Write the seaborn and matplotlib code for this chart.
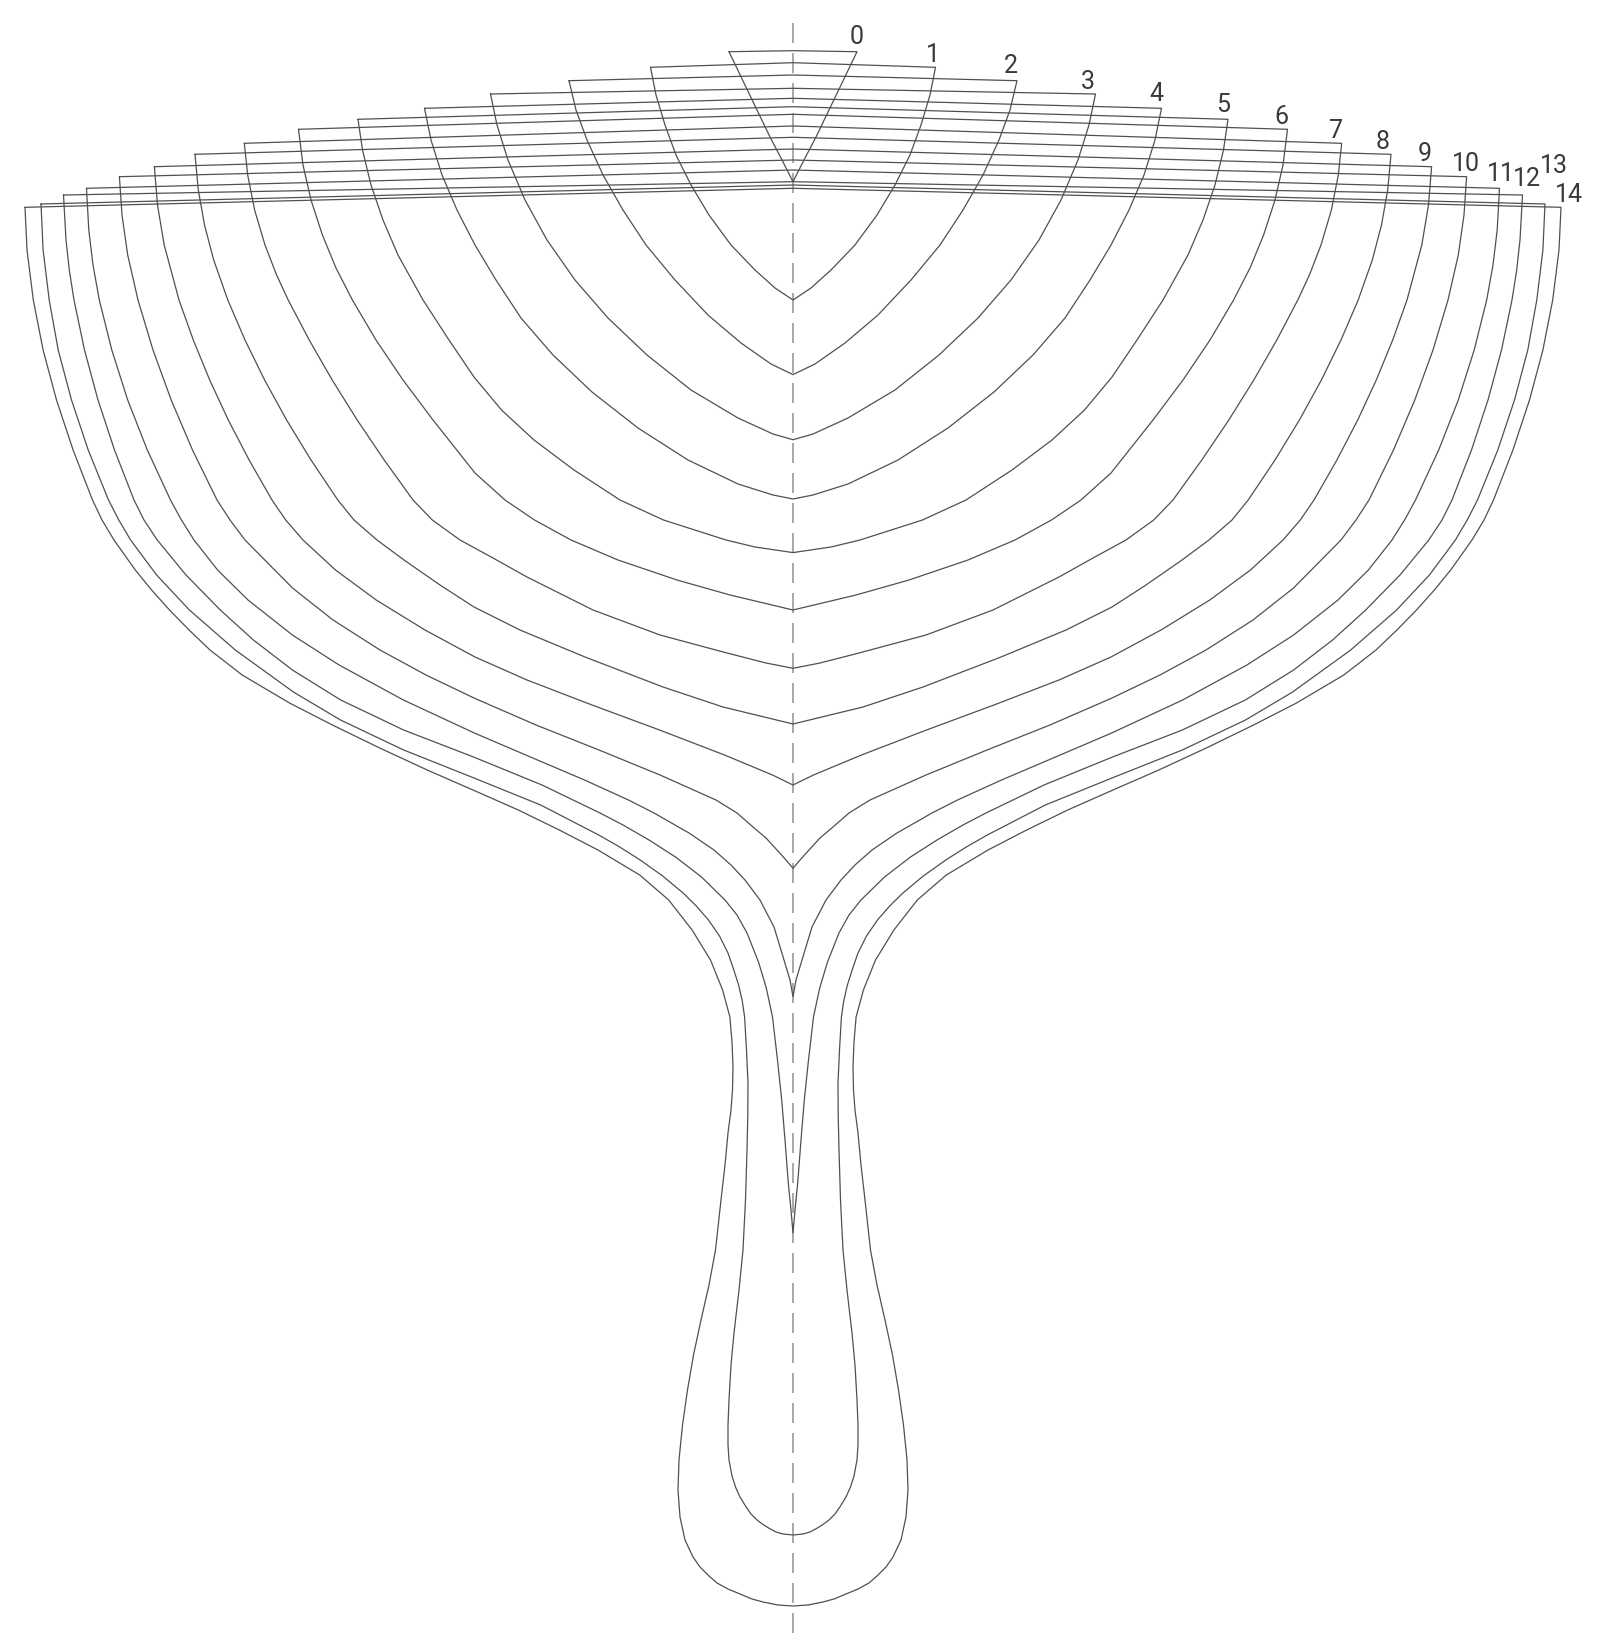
import numpy as np
import pandas as pd
import matplotlib.pyplot as plt
import seaborn as sns

# body plan of a hull: stations 0..14, right half-breadths mirrored to the left
# units: drawing units, depth measured downward from the top of the sheet

station_labels = [str(i) for i in range(15)]

corner_half_breadth = [64, 142.5, 224, 302.5, 368.5, 435, 494.5, 548.7, 598, 638.6,
                       673.6, 706.5, 729.5, 752, 768]
sheer_depth = [51.7, 67.3, 80.7, 94, 108.3, 119.3, 129.3, 143.3, 154.3, 166.7,
               176.7, 188.3, 195, 204, 207.3]
deck_center_depth = [50.7, 62.7, 75, 88.3, 98.3, 106.7, 114.3, 126, 137.3, 149,
                     160, 170, 181.7, 185, 188.3]

hull_half_breadth = [
    [49, 36, 23, 11, 0],
    [137, 128, 117, 102, 84, 62, 38, 18, 0],
    [217, 206, 190, 170, 147, 118, 85, 52, 22, 0],
    [296, 285, 268, 246, 218, 185, 146, 102, 55, 20, 0],
    [362, 351, 336, 318, 297, 272, 240, 201, 155, 105, 55, 20, 0],
    [430.5, 422, 410, 395, 370, 344, 319, 291.5, 259, 219, 173, 129.5, 67, 38, 0],
    [490, 482, 470.6, 457, 440.6, 417, 390, 360, 318, 288, 258.5, 222, 175, 116, 63, 0],
    [545.3, 538.4, 528, 516.4, 504.8, 483.8, 460.8, 435.8, 408.8, 380, 360.7, 333, 300, 266,
     200, 133, 66, 27, 0],
    [594.7, 588.5, 579.3, 565.2, 548, 528.4, 506.4, 482, 455.2, 439, 416, 389, 353, 319, 273,
     208, 130, 70, 0],
    [635.5, 628.8, 614, 599.7, 583.3, 564.7, 543.9, 521, 507.3, 490, 457.5, 416.8, 368, 318,
     266, 201, 133.5, 68.5, 20.5, 0],
    [671, 665.3, 655, 640, 621.8, 600.5, 576, 563, 548, 500.5, 460, 413, 367, 319, 257, 194,
     133, 77, 56, 40, 27, 16, 7, 0],
    [704.2, 700, 693.7, 681.2, 665.3, 645.7, 622.5, 611.6, 599, 575.4, 545, 500.6, 453.9, 389.6,
     318.7, 255.5, 208.5, 164.5, 139, 104, 79, 62, 48, 33, 19, 9, 3, 0],
    [727, 723.7, 719, 708.5, 695, 678.5, 659, 649, 635.8, 607, 572.7, 539.6, 500.6, 452.3, 389.4,
     319.5, 251, 193, 170, 144, 117.5, 91.5, 68, 56, 46, 34.5, 26.7, 20.5, 15.5, 11.3, 8, 4.7,
     2, 0],
    [749.9, 743.8, 734.8, 721.5, 704.8, 684.5, 674.2, 662.4, 636.4, 603.6, 557.7, 499.6, 452.5,
     389.3, 321.5, 252.3, 194.3, 173.3, 152.8, 130.3, 109.9, 96.7, 84.5, 73.5, 65, 59.5, 54.4,
     50.7, 48.4, 46.5, 45, 45.2, 46, 47.5, 50, 54, 59, 62, 64, 65, 65, 64, 61, 57.5, 53, 47.5,
     42, 36, 30, 23.5, 17, 10, 0],
    [766, 759.7, 749.9, 736.5, 719.9, 700.5, 691, 679, 657.7, 641.4, 623.5, 603.9, 583, 550.8,
     503.5, 460.6, 413.3, 365.8, 320, 274.7, 233.7, 195, 153.3, 124.3, 100.9, 82.5, 70.4, 63.1,
     61, 60, 60.5, 62, 65, 68, 72, 77.5, 84, 92, 99.5, 105.5, 110.5, 114, 115, 113, 108, 100,
     93, 84, 76, 65, 53, 41, 30, 15, 0],
]
hull_depth = [
    [83, 110, 137, 160, 181.7],
    [95, 125, 155, 185, 215, 245, 270, 288, 300],
    [110, 140, 175, 210, 245, 280, 315, 343, 364, 374.6],
    [125, 160, 200, 240, 280, 318, 355, 390, 418, 434, 439.7],
    [140, 175, 210, 245, 280, 318, 355, 392, 428, 460, 484, 495, 499],
    [150, 185, 220, 255, 300, 340, 377, 410, 440, 470, 500, 520, 540, 547, 552.6],
    [165, 200, 235, 268, 300, 340, 380, 420, 473, 500, 520, 540, 560, 580, 595, 610],
    [175, 210, 245, 275, 300, 340, 380, 420, 460, 500, 520, 540, 558, 577, 610, 635, 653, 663,
     668.3],
    [190, 225, 260, 300, 340, 380, 420, 460, 500, 520, 540, 560, 585, 607, 630, 657, 687, 707, 724],
    [205, 245, 300, 340, 380, 420, 460, 500, 520, 540, 570, 600, 630, 657, 680, 705, 730, 755,
     775, 785],
    [215, 255, 300, 350, 400, 450, 500, 520, 540, 588, 620, 650, 675, 698, 725, 750, 775, 800,
     813, 827, 838, 850, 860, 868.3],
    [230, 265, 300, 350, 400, 450, 500, 520, 540, 570, 600, 635, 665, 700, 733, 760, 780, 800,
     813, 833, 850, 865, 880, 900, 927, 960, 980, 996.7],
    [240, 270, 300, 350, 400, 450, 500, 520, 540, 575, 610, 640, 670, 700, 730, 757, 785, 813,
     825, 840, 857, 877, 900, 915, 933, 962, 988, 1017, 1060, 1100, 1140, 1183, 1210, 1233],
    [250, 300, 350, 400, 450, 500, 520, 540, 575, 610, 650, 692, 720, 750, 777, 805, 835, 847,
     860, 876, 893, 906, 920, 936, 953, 969, 985, 1001, 1017, 1050, 1083, 1115, 1150, 1200, 1250,
     1290, 1333, 1365, 1400, 1425, 1445, 1460, 1476, 1487, 1497, 1506, 1514, 1520, 1524.5,
     1528.5, 1532, 1534, 1535],
    [250, 300, 350, 400, 450, 500, 520, 540, 570, 590, 610, 630, 650, 675, 703, 725, 748, 770,
     790, 810, 830, 850, 875, 900, 930, 960, 990, 1017, 1042, 1067, 1090, 1110, 1133, 1165, 1200,
     1250, 1285, 1320, 1355, 1390, 1425, 1460, 1490, 1517, 1540, 1557, 1567, 1576, 1583, 1589,
     1594, 1599, 1602, 1605, 1606],
]

# label nudges relative to the deck corner
label_dx = [0, -3, -6, -8, -5, -5, -6, -6, -8, -7, -1, 1, 4, 9, 8]
label_dy = [-17, -14, -17, -14, -16, -16, -14, -14, -14, -15, -15, -16, -18, -40, -14]

sns.set_theme(style='white')
plt.rcParams['font.family'] = ['Roboto', 'DejaVu Sans']

rows = []
for i, lab in enumerate(station_labels):
    c = corner_half_breadth[i]
    s = sheer_depth[i]
    hb = hull_half_breadth[i]
    z = hull_depth[i]
    assert len(hb) == len(z), lab
    xs = [-c, 0, c] + hb + [-h for h in hb[::-1]] + [-c]
    ys = [s, deck_center_depth[i], s] + z + z[::-1] + [s]
    for k, (x, y) in enumerate(zip(xs, ys)):
        rows.append({'station': lab, 'order': k, 'x': x, 'y': y})
df = pd.DataFrame(rows)

centre = pd.DataFrame({'x': [0, 0], 'y': [23, 1642]})

fig = plt.figure(figsize=(16.12, 16.42), dpi=100)
ax = fig.add_axes([0, 0, 1, 1])

# centre line
sns.lineplot(data=centre, x='x', y='y', estimator=None, sort=False, color='#999999',
             linewidth=1.2, ax=ax)
ax.lines[-1].set_linestyle((0, (12, 6)))

sns.lineplot(data=df, x='x', y='y', units='station', estimator=None, sort=False,
             color='#505050', linewidth=0.9, legend=False, ax=ax)

for i, lab in enumerate(station_labels):
    ax.text(corner_half_breadth[i] + label_dx[i], sheer_depth[i] + label_dy[i] + 9, lab,
            ha='center', va='baseline', fontsize=18, color='#3a3a3a')

ax.set_xlim(-793, 819)
ax.set_ylim(1642, 0)
ax.axis('off')

fig.savefig('out.png', dpi=100)
